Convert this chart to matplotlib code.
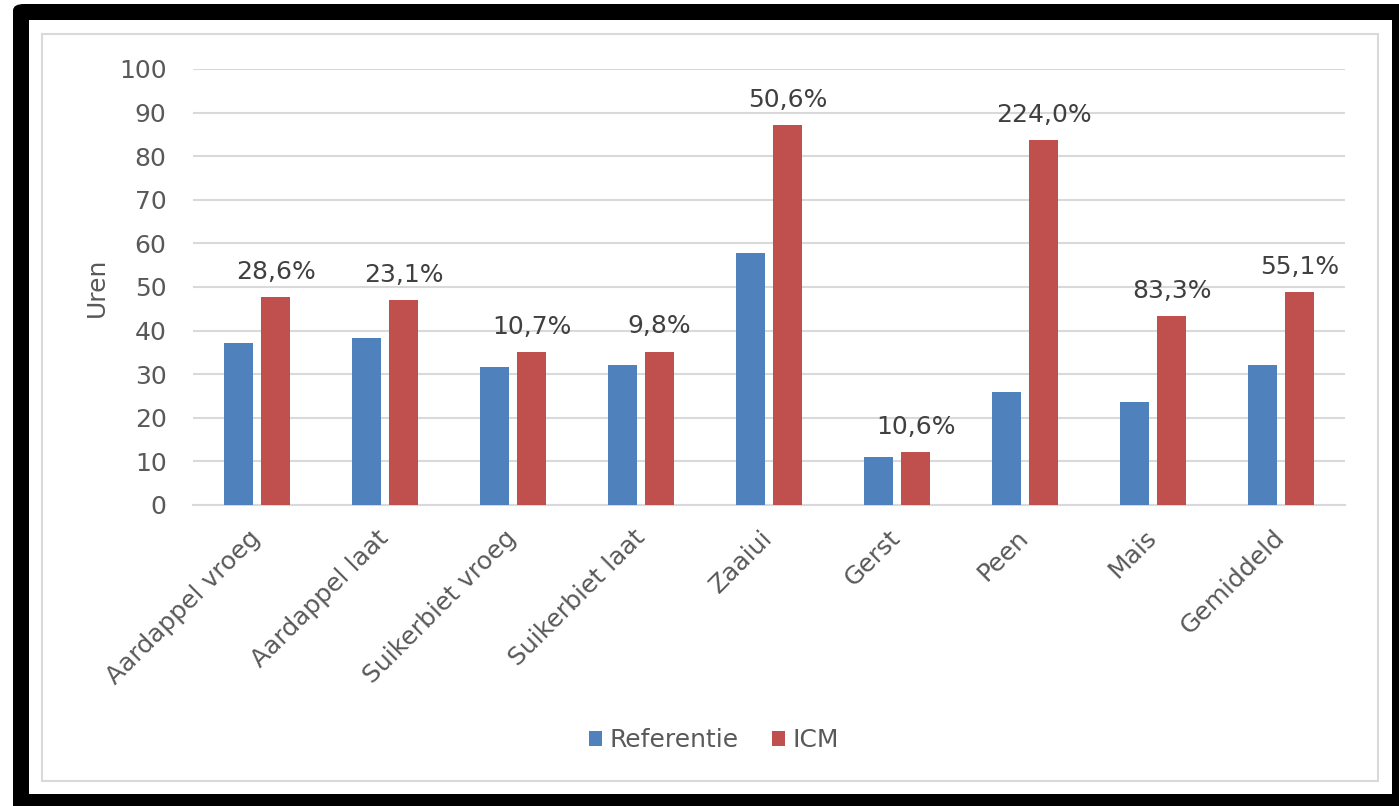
import matplotlib.pyplot as plt
import numpy as np
from matplotlib.patches import FancyBboxPatch, Rectangle

# data
categories = ["Aardappel vroeg", "Aardappel laat", "Suikerbiet vroeg", "Suikerbiet laat",
              "Zaaiui", "Gerst", "Peen", "Mais", "Gemiddeld"]
referentie = [37.1, 38.4, 31.6, 32.0, 57.9, 11.0, 25.9, 23.6, 32.0]
icm = [47.6, 47.1, 35.0, 35.2, 87.2, 12.1, 83.8, 43.3, 48.8]
pct_labels = ["28,6%", "23,1%", "10,7%", "9,8%", "50,6%", "10,6%", "224,0%", "83,3%", "55,1%"]

BLUE = "#4F81BD"
RED = "#C0504D"
GRID = "#D9D9D9"
TXT = "#595959"

W, H = 1399, 806
fig = plt.figure(figsize=(W / 100, H / 100), dpi=100)
fig.patch.set_facecolor("white")

# black frame with rounded corner, white inside, thin gray chart border
fig.patches.append(FancyBboxPatch((13 / W, -0.05), 1.2, 1 + 0.05 - 4 / H,
                                  boxstyle="round,pad=0,rounding_size=0.008",
                                  transform=fig.transFigure, facecolor="black", edgecolor="none", zorder=0))
fig.patches.append(Rectangle((29 / W, 1 - 794 / H), (1392 - 29) / W, (794 - 20) / H,
                             transform=fig.transFigure, facecolor="white", edgecolor="none", zorder=1))
fig.patches.append(Rectangle((42 / W, 1 - 781 / H), (1378 - 42) / W, (781 - 34) / H,
                             transform=fig.transFigure, facecolor="none", edgecolor=GRID, lw=1.5, zorder=2))

ax = fig.add_axes([193 / W, 1 - 505 / H, (1345 - 193) / W, (505 - 69) / H])
ax.set_facecolor("none")
ax.set_zorder(5)

x = np.arange(len(categories))
bw = 0.22
off = 0.145
ax.bar(x - off, referentie, bw, color=BLUE, label="Referentie", zorder=3)
bars_icm = ax.bar(x + off, icm, bw, color=RED, label="ICM", zorder=3)

for b, lab in zip(bars_icm, pct_labels):
    ax.annotate(lab, (b.get_x() + b.get_width() / 2, b.get_height()), xytext=(0, 13),
                textcoords="offset points", ha="center", va="baseline", fontsize=18, color="#404040")

ax.set_xlim(-0.5, len(categories) - 0.5)
ax.set_ylim(0, 100)
ax.set_yticks(np.arange(0, 101, 10))
ax.yaxis.grid(True, color=GRID, lw=1.5, zorder=0)
ax.set_axisbelow(True)
for s in ["top", "right", "left"]:
    ax.spines[s].set_visible(False)
ax.spines["bottom"].set_color(GRID)
ax.spines["bottom"].set_linewidth(1.5)
ax.tick_params(axis="both", length=0, labelsize=18, labelcolor=TXT)
ax.tick_params(axis="y", pad=19)
ax.set_xticks(x)
ax.set_xticklabels(categories, rotation=45, ha="right", rotation_mode="anchor", va="center")
ax.tick_params(axis="x", pad=21)
ax.set_ylabel("Uren", fontsize=18, color=TXT, labelpad=7)

leg = fig.legend(loc="center", bbox_to_anchor=(714 / W, 1 - 740 / H), ncol=2, frameon=False,
                 fontsize=18, labelcolor=TXT, handlelength=0.55, handleheight=0.55, handletextpad=0.3,
                 columnspacing=1.3)
leg.set_zorder(6)

fig.savefig("out.png", dpi=100)
